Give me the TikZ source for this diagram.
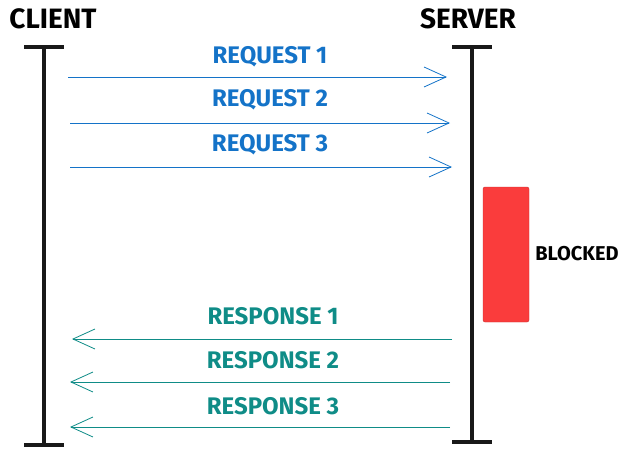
\documentclass[tikz,border=0pt]{standalone}
\usepackage{fontspec}
\setmainfont{Fira Sans}
\usetikzlibrary{arrows.meta}
\definecolor{reqc}{RGB}{20,115,200}
\definecolor{resc}{RGB}{15,140,135}
\definecolor{blk}{RGB}{250,60,60}
\begin{document}
\begin{tikzpicture}[x=1pt,y=-1pt,
  life/.style={line width=4pt,black!90},
  endbar/.style={line width=3.5pt,black!90},
  msg/.style={line width=0.8pt,-{Straight Barb[length=22pt,width=20pt,line width=0.8pt]}},
  req/.style={msg,reqc},
  res/.style={msg,resc},
  lab/.style={font=\bfseries\fontsize{24}{26}\selectfont},
  head/.style={font=\bfseries\fontsize{28}{30}\selectfont}]
\useasboundingbox (0,0) rectangle (629,456);
\node[head] (client) at (53,19) {CLIENT};
\node[head] (server) at (468,19) {SERVER};
\draw[life] (44,47) -- (44,445);
\draw[endbar] (24,47) -- (64,47); \draw[endbar] (24,445) -- (64,445);
\draw[life] (472,47) -- (472,442);
\draw[endbar] (452,47) -- (492,47); \draw[endbar] (452,442) -- (492,442);
\node[draw=blk!80!black,fill=blk,rounded corners=2pt,minimum width=46pt,minimum height=135pt,inner sep=0pt] (blocked) at (506,254.5) {};
\node[font=\bfseries\fontsize{20}{22}\selectfont] (bl) at (577,254) {BLOCKED};
\coordinate (a1) at (68,77); \coordinate (b1) at (447,77);
\coordinate (a2) at (70,123); \coordinate (b2) at (450,123);
\coordinate (a3) at (70,167); \coordinate (b3) at (452,167);
\draw[req] (a1) -- (b1); \draw[req] (a2) -- (b2); \draw[req] (a3) -- (b3);
\node[lab,reqc] (r1) at (270,57) {REQUEST 1};
\node[lab,reqc] (r2) at (270,100) {REQUEST 2};
\node[lab,reqc] (r3) at (270,145) {REQUEST 3};
\coordinate (c1) at (452,339); \coordinate (d1) at (72,339);
\coordinate (c2) at (450,382); \coordinate (d2) at (70,382);
\coordinate (c3) at (450,427); \coordinate (d3) at (70,427);
\draw[res] (c1) -- (d1); \draw[res] (c2) -- (d2); \draw[res] (c3) -- (d3);
\node[lab,resc] (s1) at (273,316) {RESPONSE 1};
\node[lab,resc] (s2) at (273,360) {RESPONSE 2};
\node[lab,resc] (s3) at (273,406) {RESPONSE 3};
\end{tikzpicture}
\end{document}
